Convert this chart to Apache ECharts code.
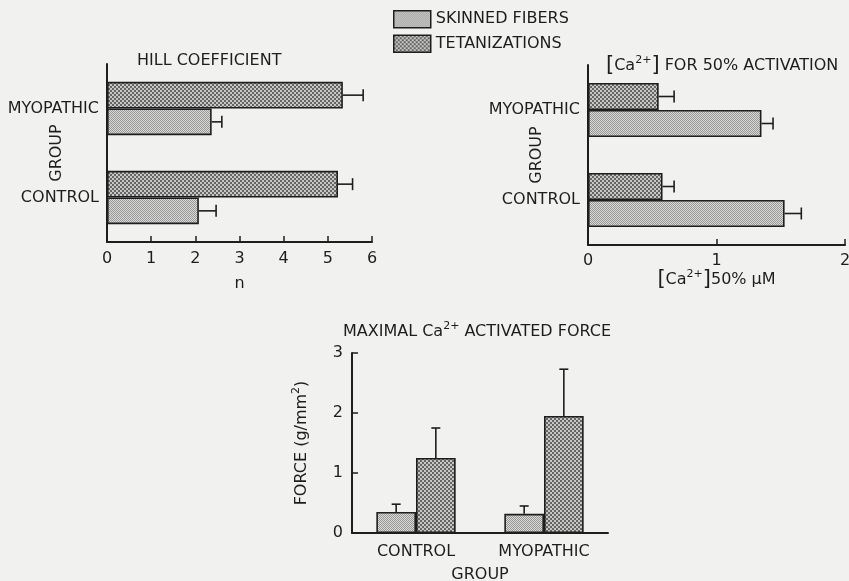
<!DOCTYPE html>
<html><head><meta charset="utf-8">
<script src="https://cdn.jsdelivr.net/npm/echarts@6/dist/echarts.min.js"></script>
<style>html,body{margin:0;padding:0;background:#f1f1ef}#c{width:849px;height:581px}</style>
</head><body><div id="c"></div>
<script>
// ---- data ----
const categories = ['CONTROL', 'MYOPATHIC'];
const seriesNames = ['SKINNED FIBERS', 'TETANIZATIONS'];
const hillSkinned = [2.08, 2.37];
const hillSkinnedSE = [0.39, 0.23];
const hillTetan = [5.23, 5.34];
const hillTetanSE = [0.33, 0.46];
const ca50Skinned = [1.53, 1.35];
const ca50SkinnedSE = [0.13, 0.09];
const ca50Tetan = [0.58, 0.55];
const ca50TetanSE = [0.09, 0.12];
const forceSkinned = [0.35, 0.32];
const forceSkinnedSE = [0.13, 0.13];
const forceTetan = [1.25, 1.95];
const forceTetanSE = [0.50, 0.78];

// ---- styles ----
const FONT = 'DejaVu Sans';
const INK = '#1e1e1e';
function makePattern(size, bg, fg, pts, cell) {
  const c = document.createElement('canvas');
  c.width = c.height = size;
  const g = c.getContext('2d');
  g.fillStyle = bg; g.fillRect(0, 0, size, size);
  g.fillStyle = fg; pts.forEach(p => g.fillRect(p[0], p[1], cell, cell));
  return { image: c, repeat: 'repeat' };
}
const skinnedFill = makePattern(2, '#dadad8', '#979797', [[0, 0], [1, 1]], 1);
const tetanFill = makePattern(4, '#c6c6c4', '#666666', [[0, 0], [2, 2]], 2);
const BAR_FRAC = 0.30;
const FORCE_FRAC = 0.31;

function barSeries(name, data, gi, fill, frac) {
  return {
    name: name, type: 'bar', xAxisIndex: gi, yAxisIndex: gi, data: data,
    barWidth: (frac * 100) + '%', barGap: '0%', silent: true,
    itemStyle: { color: fill, borderColor: INK, borderWidth: 1.6 }
  };
}
// horizontal error bars; side: -1 upper bar in group, +1 lower bar
function hErr(means, ses, gi, side, frac) {
  return {
    type: 'custom', xAxisIndex: gi, yAxisIndex: gi, silent: true, z: 5,
    data: means.map((m, i) => [m, i, m + ses[i]]),
    encode: { x: [0, 2], y: 1 },
    renderItem: function (params, api) {
      const s = api.coord([api.value(0), api.value(1)]);
      const e = api.coord([api.value(2), api.value(1)]);
      const bw = api.size([0, 1])[1] * frac;
      const y = s[1] + side * bw / 2;
      const cap = 12;
      const st = { stroke: INK, lineWidth: 1.6 };
      return { type: 'group', children: [
        { type: 'line', shape: { x1: s[0], y1: y, x2: e[0], y2: y }, style: st },
        { type: 'line', shape: { x1: e[0], y1: y - cap / 2, x2: e[0], y2: y + cap / 2 }, style: st }
      ] };
    }
  };
}
function vErr(means, ses, gi, side, frac) {
  return {
    type: 'custom', xAxisIndex: gi, yAxisIndex: gi, silent: true, z: 5,
    data: means.map((m, i) => [i, m, m + ses[i]]),
    encode: { x: 0, y: [1, 2] },
    renderItem: function (params, api) {
      const s = api.coord([api.value(0), api.value(1)]);
      const e = api.coord([api.value(0), api.value(2)]);
      const bw = api.size([1, 0])[0] * frac;
      const x = s[0] + side * bw / 2;
      const cap = 9;
      const st = { stroke: INK, lineWidth: 1.6 };
      return { type: 'group', children: [
        { type: 'line', shape: { x1: x, y1: s[1], x2: x, y2: e[1] }, style: st },
        { type: 'line', shape: { x1: x - cap / 2, y1: e[1], x2: x + cap / 2, y2: e[1] }, style: st }
      ] };
    }
  };
}
const txt = { fontFamily: FONT, fontSize: 16, color: INK };
const richSup = {
  sup: { fontFamily: FONT, fontSize: 11, color: INK, verticalAlign: 'top', lineHeight: 22 },
  br: { fontFamily: FONT, fontSize: 21, color: INK, lineHeight: 22 }
};
const axLine = { show: true, lineStyle: { color: INK, width: 2 } };

function valueAxisX(gi, max, name, nameGap, margin) {
  return {
    type: 'value', gridIndex: gi, min: 0, max: max, interval: 1,
    axisLine: axLine,
    axisTick: { show: true, inside: true, length: 6, lineStyle: { color: INK, width: 1.5 } },
    axisLabel: Object.assign({ margin: margin }, txt),
    splitLine: { show: false },
    name: name, nameLocation: 'middle', nameGap: nameGap, nameMoveOverlap: false,
    nameTextStyle: Object.assign({ rich: richSup, lineHeight: 22 }, txt)
  };
}
function catAxisY(gi, gap) {
  return {
    type: 'category', gridIndex: gi, data: categories,
    axisLine: axLine, axisTick: { show: false },
    axisLabel: Object.assign({ margin: 8 }, txt),
    name: 'GROUP', nameLocation: 'middle', nameGap: gap, nameRotate: 90, nameMoveOverlap: false,
    nameTextStyle: txt
  };
}

const option = {
  backgroundColor: '#f1f1ef',
  animation: false,
  title: [
    { text: 'HILL COEFFICIENT', left: 137, top: 53, padding: 0, textStyle: Object.assign({ fontWeight: 'normal' }, txt) },
    { text: '{br|[}Ca{sup|2+}{br|]} FOR 50% ACTIVATION', left: 606, top: 55, padding: 0,
      textStyle: Object.assign({ fontWeight: 'normal', lineHeight: 22, rich: richSup }, txt) },
    { text: 'MAXIMAL Ca{sup|2+} ACTIVATED FORCE', left: 343, top: 321, padding: 0,
      textStyle: Object.assign({ fontWeight: 'normal', lineHeight: 22, rich: richSup }, txt) }
  ],
  legend: {
    data: seriesNames, orient: 'vertical', left: 393, top: 10, padding: 0,
    itemWidth: 37, itemHeight: 17, itemGap: 6, selectedMode: false, icon: 'rect',
    textStyle: txt, itemStyle: { borderColor: INK, borderWidth: 1.5 }
  },
  grid: [
    { left: 107, top: 64, width: 265, height: 178, outerBoundsMode: 'none', containLabel: false },
    { left: 588, top: 65, width: 257, height: 180, outerBoundsMode: 'none', containLabel: false },
    { left: 352, top: 353, width: 256, height: 180, outerBoundsMode: 'none', containLabel: false }
  ],
  xAxis: [
    valueAxisX(0, 6, 'n', 31, 9),
    valueAxisX(1, 2, '{br|[}Ca{sup|2+}{br|]}50% μM', 24, 8),
    {
      type: 'category', gridIndex: 2, data: categories,
      axisLine: axLine, axisTick: { show: false },
      axisLabel: Object.assign({ margin: 11 }, txt),
      name: 'GROUP', nameLocation: 'middle', nameGap: 34, nameMoveOverlap: false, nameTextStyle: txt
    }
  ],
  yAxis: [
    catAxisY(0, 42),
    catAxisY(1, 43),
    {
      type: 'value', gridIndex: 2, min: 0, max: 3, interval: 1,
      axisLine: axLine,
      axisTick: { show: true, inside: true, length: 6, lineStyle: { color: INK, width: 1.5 } },
      axisLabel: Object.assign({ margin: 9 }, txt),
      splitLine: { show: false },
      name: 'FORCE (g/mm{sup|2})', nameLocation: 'middle', nameGap: 39, nameRotate: 90, nameMoveOverlap: false,
      nameTextStyle: Object.assign({ rich: richSup, lineHeight: 22 }, txt)
    }
  ],
  series: [
    barSeries(seriesNames[1], hillTetan, 0, tetanFill, BAR_FRAC),
    barSeries(seriesNames[0], hillSkinned, 0, skinnedFill, BAR_FRAC),
    hErr(hillTetan, hillTetanSE, 0, -1, BAR_FRAC),
    hErr(hillSkinned, hillSkinnedSE, 0, 1, BAR_FRAC),
    barSeries(seriesNames[1], ca50Tetan, 1, tetanFill, BAR_FRAC),
    barSeries(seriesNames[0], ca50Skinned, 1, skinnedFill, BAR_FRAC),
    hErr(ca50Tetan, ca50TetanSE, 1, -1, BAR_FRAC),
    hErr(ca50Skinned, ca50SkinnedSE, 1, 1, BAR_FRAC),
    barSeries(seriesNames[0], forceSkinned, 2, skinnedFill, FORCE_FRAC),
    barSeries(seriesNames[1], forceTetan, 2, tetanFill, FORCE_FRAC),
    vErr(forceSkinned, forceSkinnedSE, 2, -1, FORCE_FRAC),
    vErr(forceTetan, forceTetanSE, 2, 1, FORCE_FRAC)
  ]
};
const chart = echarts.init(document.getElementById('c'), null, { renderer: 'canvas' });
chart.setOption(option);
</script>
</body></html>
